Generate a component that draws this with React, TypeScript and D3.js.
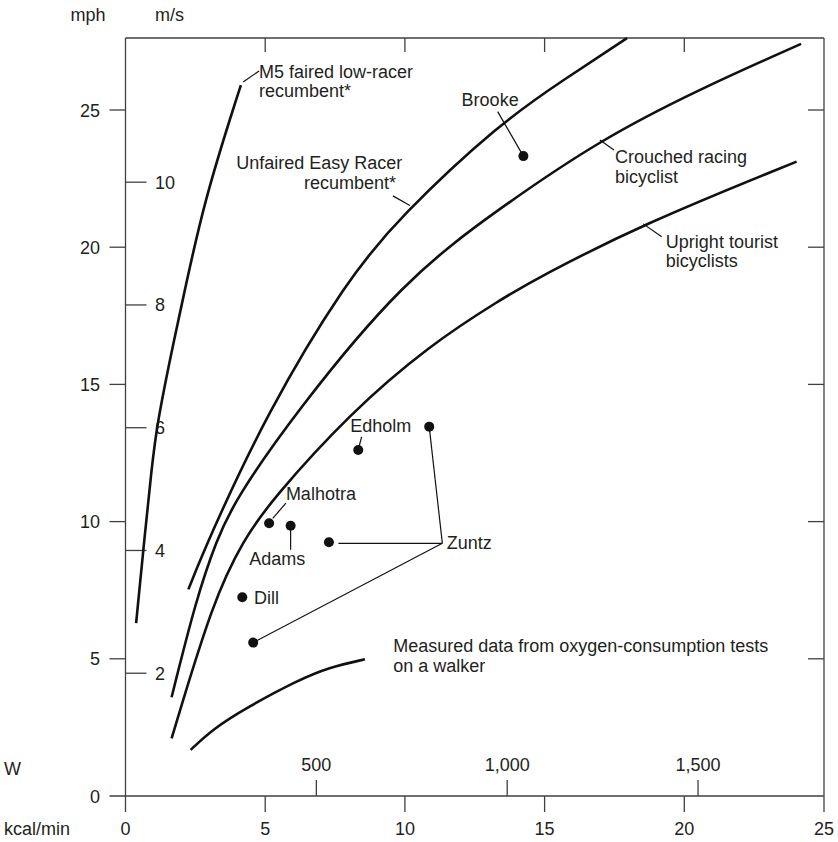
import React from "react";
import * as d3 from "d3";

// ---- data (kcal/min, mph) ----
const m5Kcal = [0.38, 0.64, 0.94, 1.13, 1.66, 1.95, 2.81, 4.13];
const m5Mph = [6.3, 9.0, 11.99, 13.56, 16.25, 17.6, 21.72, 25.91];

const easyKcal = [2.25, 2.96, 5.05, 7.92, 9.82, 13.4, 15.67, 17.95];
const easyMph = [7.53, 9.33, 13.95, 18.8, 21.11, 24.52, 26.09, 27.62];

const crouchKcal = [1.65, 2.52, 3.26, 3.92, 6.07, 9.94, 13.4, 16.98, 20.56, 24.18];
const crouchMph = [3.6, 7.14, 9.33, 10.79, 13.96, 18.8, 21.43, 23.91, 25.77, 27.41];

const uprightKcal = [1.65, 3.14, 4.22, 5.23, 8.04, 10.9, 13.4, 14.84, 18.53, 24.02];
const uprightMph = [2.1, 7.14, 9.33, 10.79, 13.96, 16.44, 18.08, 18.93, 20.85, 23.12];

const walkerKcal = [2.33, 3.14, 4.34, 6.13, 7.32, 8.57];
const walkerMph = [1.68, 2.45, 3.22, 4.2, 4.7, 4.98];

const dotNames = ["Brooke", "Edholm", "Zuntz", "Malhotra", "Adams", "Zuntz", "Zuntz", "Dill"];
const dotKcal = [14.24, 8.33, 10.87, 5.14, 5.91, 7.28, 4.57, 4.18];
const dotMph = [23.32, 12.61, 13.46, 9.94, 9.85, 9.25, 5.59, 7.24];

const kcalTicks = [0, 5, 10, 15, 20, 25];
const mphTicks = [0, 5, 10, 15, 20, 25];
const msTicks = [2, 4, 6, 8, 10];
const wattTicks = [500, 1000, 1500];
const wattTickLabels = ["500", "1,000", "1,500"];
const WATT_PER_KCAL = 73.2;
const MPH_PER_MS = 2.23694;

const labelText = [
  "M5 faired low-racer", "recumbent*",
  "Unfaired Easy Racer", "recumbent*",
  "Brooke",
  "Crouched racing", "bicyclist",
  "Upright tourist", "bicyclists",
  "Edholm", "Malhotra", "Adams", "Dill", "Zuntz",
  "Measured data from oxygen-consumption tests", "on a walker",
];
const labelKcal = [4.78, 4.78, 3.96, 6.39, 12.03, 17.52, 17.52, 19.34, 19.34, 8.04, 5.74, 4.43, 4.6, 11.5, 9.58, 9.58];
const labelMph = [26.18, 25.48, 22.85, 22.12, 25.15, 23.06, 22.35, 19.96, 19.29, 13.28, 10.79, 8.42, 7.0, 9.0, 5.26, 4.53];

// leader lines [kcal1, mph1, kcal2, mph2]
const leaders: number[][] = [
  [4.21, 26.02, 4.78, 26.42],
  [9.57, 21.87, 10.18, 21.52],
  [13.32, 24.94, 14.24, 23.32],
  [16.98, 23.91, 17.48, 23.54],
  [18.53, 20.85, 19.19, 20.38],
  [8.33, 12.61, 8.45, 13.09],
  [5.74, 10.67, 5.27, 10.12],
  [5.91, 9.85, 5.91, 8.97],
  [7.62, 9.21, 11.34, 9.21],
  [10.87, 13.46, 11.34, 9.21],
  [4.57, 5.59, 11.34, 9.21],
];

const W = 838;
const H = 842;
const FONT = "'Liberation Sans', Arial, Helvetica, sans-serif";
const INK = "#231f20";
const AXIS = "#404040";

export default function App() {
  const x = d3.scaleLinear().domain([0, 25]).range([125.5, 824]);
  const y = d3.scaleLinear().domain([0, 25]).range([796, 110]);
  const yTop = 38;
  const wx = (w: number) => x(w / WATT_PER_KCAL);

  const mk = (ks: number[], ms: number[]) =>
    d3
      .line<number>()
      .curve(d3.curveBasis)
      .x((_, i) => x(ks[i]))
      .y((_, i) => y(ms[i]))(ks) as string;

  const curves = [
    mk(m5Kcal, m5Mph),
    mk(easyKcal, easyMph),
    mk(crouchKcal, crouchMph),
    mk(uprightKcal, uprightMph),
    mk(walkerKcal, walkerMph),
  ];

  const x0 = x(0);
  const x1 = x(25);
  const yb = y(0);

  return (
    <svg
      width={W}
      height={H}
      style={{ position: "absolute", left: 0, top: 0, background: "#fff" }}
      fontFamily={FONT}
      fontSize={18}
    >
      <rect width={W} height={H} fill="#fff" />
      <g stroke={AXIS} strokeWidth={1.3} fill="none">
        <line x1={x0} x2={x0} y1={yTop} y2={yb + 16} />
        <line x1={x1} x2={x1} y1={yTop} y2={yb + 16} />
        <line x1={x0} x2={x1} y1={yTop} y2={yTop} />
        <line x1={x0 - 16} x2={x1} y1={yb} y2={yb} />
        {kcalTicks.slice(1, -1).map((k) => (
          <g key={"kt" + k}>
            <line x1={x(k)} x2={x(k)} y1={yb} y2={yb + 16} />
            <line x1={x(k)} x2={x(k)} y1={yTop} y2={yTop + 14} />
          </g>
        ))}
        {mphTicks.slice(1).map((m) => (
          <g key={"mt" + m}>
            <line x1={x0 - 16} x2={x0} y1={y(m)} y2={y(m)} />
            <line x1={x1 - 16} x2={x1} y1={y(m)} y2={y(m)} />
          </g>
        ))}
        {msTicks.map((s) => (
          <line key={"st" + s} x1={x0} x2={x0 + 21} y1={y(s * MPH_PER_MS)} y2={y(s * MPH_PER_MS)} />
        ))}
        {wattTicks.map((w) => (
          <line key={"wt" + w} x1={wx(w)} x2={wx(w)} y1={yb} y2={yb - 16} />
        ))}
      </g>

      <g fill={INK}>
        <text x={88} y={21} textAnchor="middle">mph</text>
        <text x={155} y={21}>m/s</text>
        {mphTicks.map((m) => (
          <text key={"ml" + m} x={100} y={y(m) + 6.5} textAnchor="end">{m}</text>
        ))}
        {msTicks.map((s) => (
          <text key={"sl" + s} x={155} y={y(s * MPH_PER_MS) + 6.5}>{s}</text>
        ))}
        {kcalTicks.map((k) => (
          <text key={"kl" + k} x={x(k)} y={835} textAnchor="middle">{k}</text>
        ))}
        {wattTicks.map((w, i) => (
          <text key={"wl" + w} x={wx(w)} y={771} textAnchor="middle">{wattTickLabels[i]}</text>
        ))}
        <text x={4} y={775}>W</text>
        <text x={4} y={835}>kcal/min</text>
      </g>

      <g fill="none" stroke="#111" strokeWidth={2.6} strokeLinecap="butt">
        {curves.map((d, i) => (
          <path key={"c" + i} d={d} />
        ))}
      </g>

      <g stroke="#111" strokeWidth={1.2}>
        {leaders.map((l, i) => (
          <line key={"ld" + i} x1={x(l[0])} y1={y(l[1])} x2={x(l[2])} y2={y(l[3])} />
        ))}
      </g>

      <g fill="#111">
        {dotKcal.map((k, i) => (
          <circle key={"d" + i} cx={x(k)} cy={y(dotMph[i])} r={5} data-name={dotNames[i]} />
        ))}
      </g>

      <g fill={INK}>
        {labelText.map((t, i) => (
          <text key={"lb" + i} x={x(labelKcal[i])} y={y(labelMph[i])}>{t}</text>
        ))}
      </g>
    </svg>
  );
}
